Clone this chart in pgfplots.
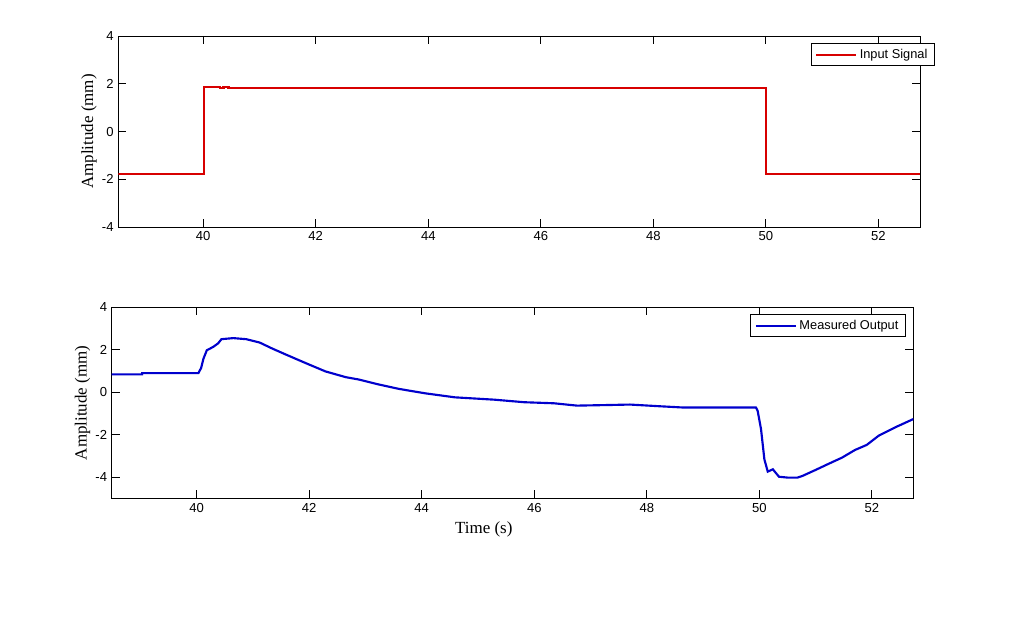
\documentclass[border=0pt]{standalone}
\usepackage{pgfplots}
\pgfplotsset{compat=1.18}
\usepackage{fontspec}
\setmainfont{Liberation Sans}
\newfontfamily\timesfont{Liberation Serif}
\definecolor{sigred}{RGB}{215,0,0}
\definecolor{sigblue}{RGB}{0,0,205}
\begin{document}
\begin{tikzpicture}
% page frame = 1034 x 630 px at 0.75pt per px
\path[use as bounding box] (0,0) rectangle (775.5pt,-472.5pt);
\pgfplotsset{
  mystyle/.style={
    scale only axis, width=601.3pt, height=143.3pt,
    xmin=38.49, xmax=52.74,
    xtick={40,42,...,52},
    ytick={-4,-2,0,2,4},
    tick align=inside, major tick length=6pt,
    tick style={black, line width=0.6pt},
    axis line style={line width=0.6pt},
    /pgf/number format/assume math mode=true,
    ticklabel style={font=\fontsize{9.8}{11}\selectfont},
    ylabel style={font=\timesfont\fontsize{12.75}{14}\selectfont},
    ylabel shift=-3pt,
    xlabel style={font=\timesfont\fontsize{12.75}{14}\selectfont},
    legend style={font=\fontsize{9.6}{11}\selectfont, draw=black, line width=0.6pt,
      inner xsep=3pt, inner ysep=2pt, cells={anchor=west}},
    legend image code/.code={\draw[#1, line width=1.5pt] (0pt,0pt) -- (30pt,0pt);},
  }
}
\begin{axis}[mystyle, at={(88.7pt,-27pt)}, anchor=north west,
  ymin=-4, ymax=4,
  ylabel={Amplitude (mm)},
  legend style={at={(1.018,0.962)}, anchor=north east}]
\addplot[sigred, line width=1.6pt] coordinates {
(38.49,-1.78) (40.02,-1.78) (40.02,1.86) (40.30,1.86) (40.30,1.84)
(40.36,1.84) (40.36,1.86) (40.45,1.86) (40.45,1.84) (50.00,1.84)
(50.00,-1.78) (50.70,-1.78) (50.70,-1.77) (51.00,-1.77) (51.00,-1.79)
(51.60,-1.79) (51.60,-1.77) (52.10,-1.77) (52.10,-1.79) (52.74,-1.79)
};
\addlegendentry{Input Signal}
\end{axis}
\begin{axis}[mystyle, at={(83.8pt,-230.5pt)}, anchor=north west,
  ymin=-5, ymax=4,
  ylabel={Amplitude (mm)},
  xlabel={Time (s)},
  xlabel style={at={(axis description cs:0.464,0)}, anchor=north, yshift=-14pt},
  legend style={at={(0.990,0.963)}, anchor=north east}]
\addplot[sigblue, line width=1.6pt] coordinates {
(38.49,0.84) (39.03,0.84) (39.03,0.90) (40.03,0.90) (40.08,1.15)
(40.12,1.58) (40.18,1.98) (40.29,2.13) (40.38,2.30) (40.44,2.50)
(40.65,2.55) (40.88,2.50) (41.12,2.34) (41.35,2.05) (41.59,1.77)
(41.94,1.37) (42.29,0.98) (42.65,0.71) (42.88,0.60) (43.23,0.37)
(43.59,0.16) (44.06,-0.05) (44.59,-0.24) (45.29,-0.35) (45.82,-0.47)
(46.35,-0.52) (46.76,-0.63) (47.35,-0.60) (47.70,-0.58) (48.23,-0.66)
(48.65,-0.72) (49.94,-0.72) (49.97,-0.87) (50.03,-1.73) (50.09,-3.16)
(50.15,-3.74) (50.24,-3.63) (50.35,-3.98) (50.50,-4.02) (50.68,-4.02)
(50.76,-3.95) (51.00,-3.66) (51.24,-3.36) (51.47,-3.08) (51.70,-2.72)
(51.91,-2.48) (52.12,-2.05) (52.41,-1.66) (52.74,-1.26)
};
\addlegendentry{Measured Output}
\end{axis}
\end{tikzpicture}
\end{document}
